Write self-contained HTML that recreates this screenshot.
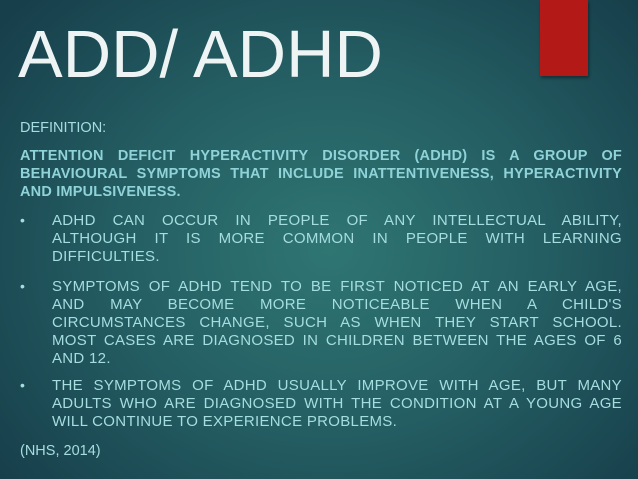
<!DOCTYPE html>
<html><head><meta charset="utf-8"><style>
html,body{margin:0;padding:0}
body{width:638px;height:479px;overflow:hidden;position:relative;font-family:"Liberation Sans",sans-serif;
background:radial-gradient(ellipse 420px 360px at 330px 250px,#2f7673 0%,#245e63 50%,#173f4b 100%);}
.t{position:absolute;white-space:nowrap;color:#a6dde0}
.l{position:absolute;left:20px;width:602px;text-align:justify;text-align-last:justify;color:#a6dde0;font-size:14.5px;line-height:18px;white-space:nowrap}
.b{font-weight:bold;font-size:14.5px;color:#8fd3d8;letter-spacing:0.2px}
.i{left:52px;width:570px;font-size:15px;letter-spacing:0.3px}
.d{position:absolute;left:20px;color:#a6dde0;font-size:14px}
</style></head><body>
<div style="position:absolute;left:540px;top:0;width:48px;height:76px;background:#b31917;box-shadow:1px 2px 3px rgba(0,0,0,.4)"></div>
<div class="t" style="left:18px;top:17px;font-size:67px;line-height:76px;color:#eef4f4;letter-spacing:0px">ADD/ ADHD</div>
<div class="t" style="left:20px;top:119px;font-size:14.5px;line-height:18px">DEFINITION:</div>
<div>
<div class="l b" style="top:147px">ATTENTION DEFICIT HYPERACTIVITY DISORDER (ADHD) IS A GROUP OF</div>
<div class="l b" style="top:165px">BEHAVIOURAL SYMPTOMS THAT INCLUDE INATTENTIVENESS, HYPERACTIVITY</div>
<div class="l b" style="top:183px;text-align-last:left;width:auto">AND IMPULSIVENESS.</div>
</div>
<div>
<div class="d" style="top:212px">•</div>
<div class="l i" style="top:212px">ADHD CAN OCCUR IN PEOPLE OF ANY INTELLECTUAL ABILITY,</div>
<div class="l i" style="top:230px">ALTHOUGH IT IS MORE COMMON IN PEOPLE WITH LEARNING</div>
<div class="l i" style="top:248px;text-align-last:left;width:auto">DIFFICULTIES.</div>
</div>
<div>
<div class="d" style="top:278px">•</div>
<div class="l i" style="top:278px">SYMPTOMS OF ADHD TEND TO BE FIRST NOTICED AT AN EARLY AGE,</div>
<div class="l i" style="top:296px">AND MAY BECOME MORE NOTICEABLE WHEN A CHILD'S</div>
<div class="l i" style="top:314px">CIRCUMSTANCES CHANGE, SUCH AS WHEN THEY START SCHOOL.</div>
<div class="l i" style="top:332px">MOST CASES ARE DIAGNOSED IN CHILDREN BETWEEN THE AGES OF 6</div>
<div class="l i" style="top:350px;text-align-last:left;width:auto">AND 12.</div>
</div>
<div>
<div class="d" style="top:377px">•</div>
<div class="l i" style="top:377px">THE SYMPTOMS OF ADHD USUALLY IMPROVE WITH AGE, BUT MANY</div>
<div class="l i" style="top:395px">ADULTS WHO ARE DIAGNOSED WITH THE CONDITION AT A YOUNG AGE</div>
<div class="l i" style="top:413px;text-align-last:left;width:auto">WILL CONTINUE TO EXPERIENCE PROBLEMS.</div>
</div>
<div class="t" style="left:20px;top:442px;font-size:14.5px;line-height:18px">(NHS, 2014)</div>
</body></html>
